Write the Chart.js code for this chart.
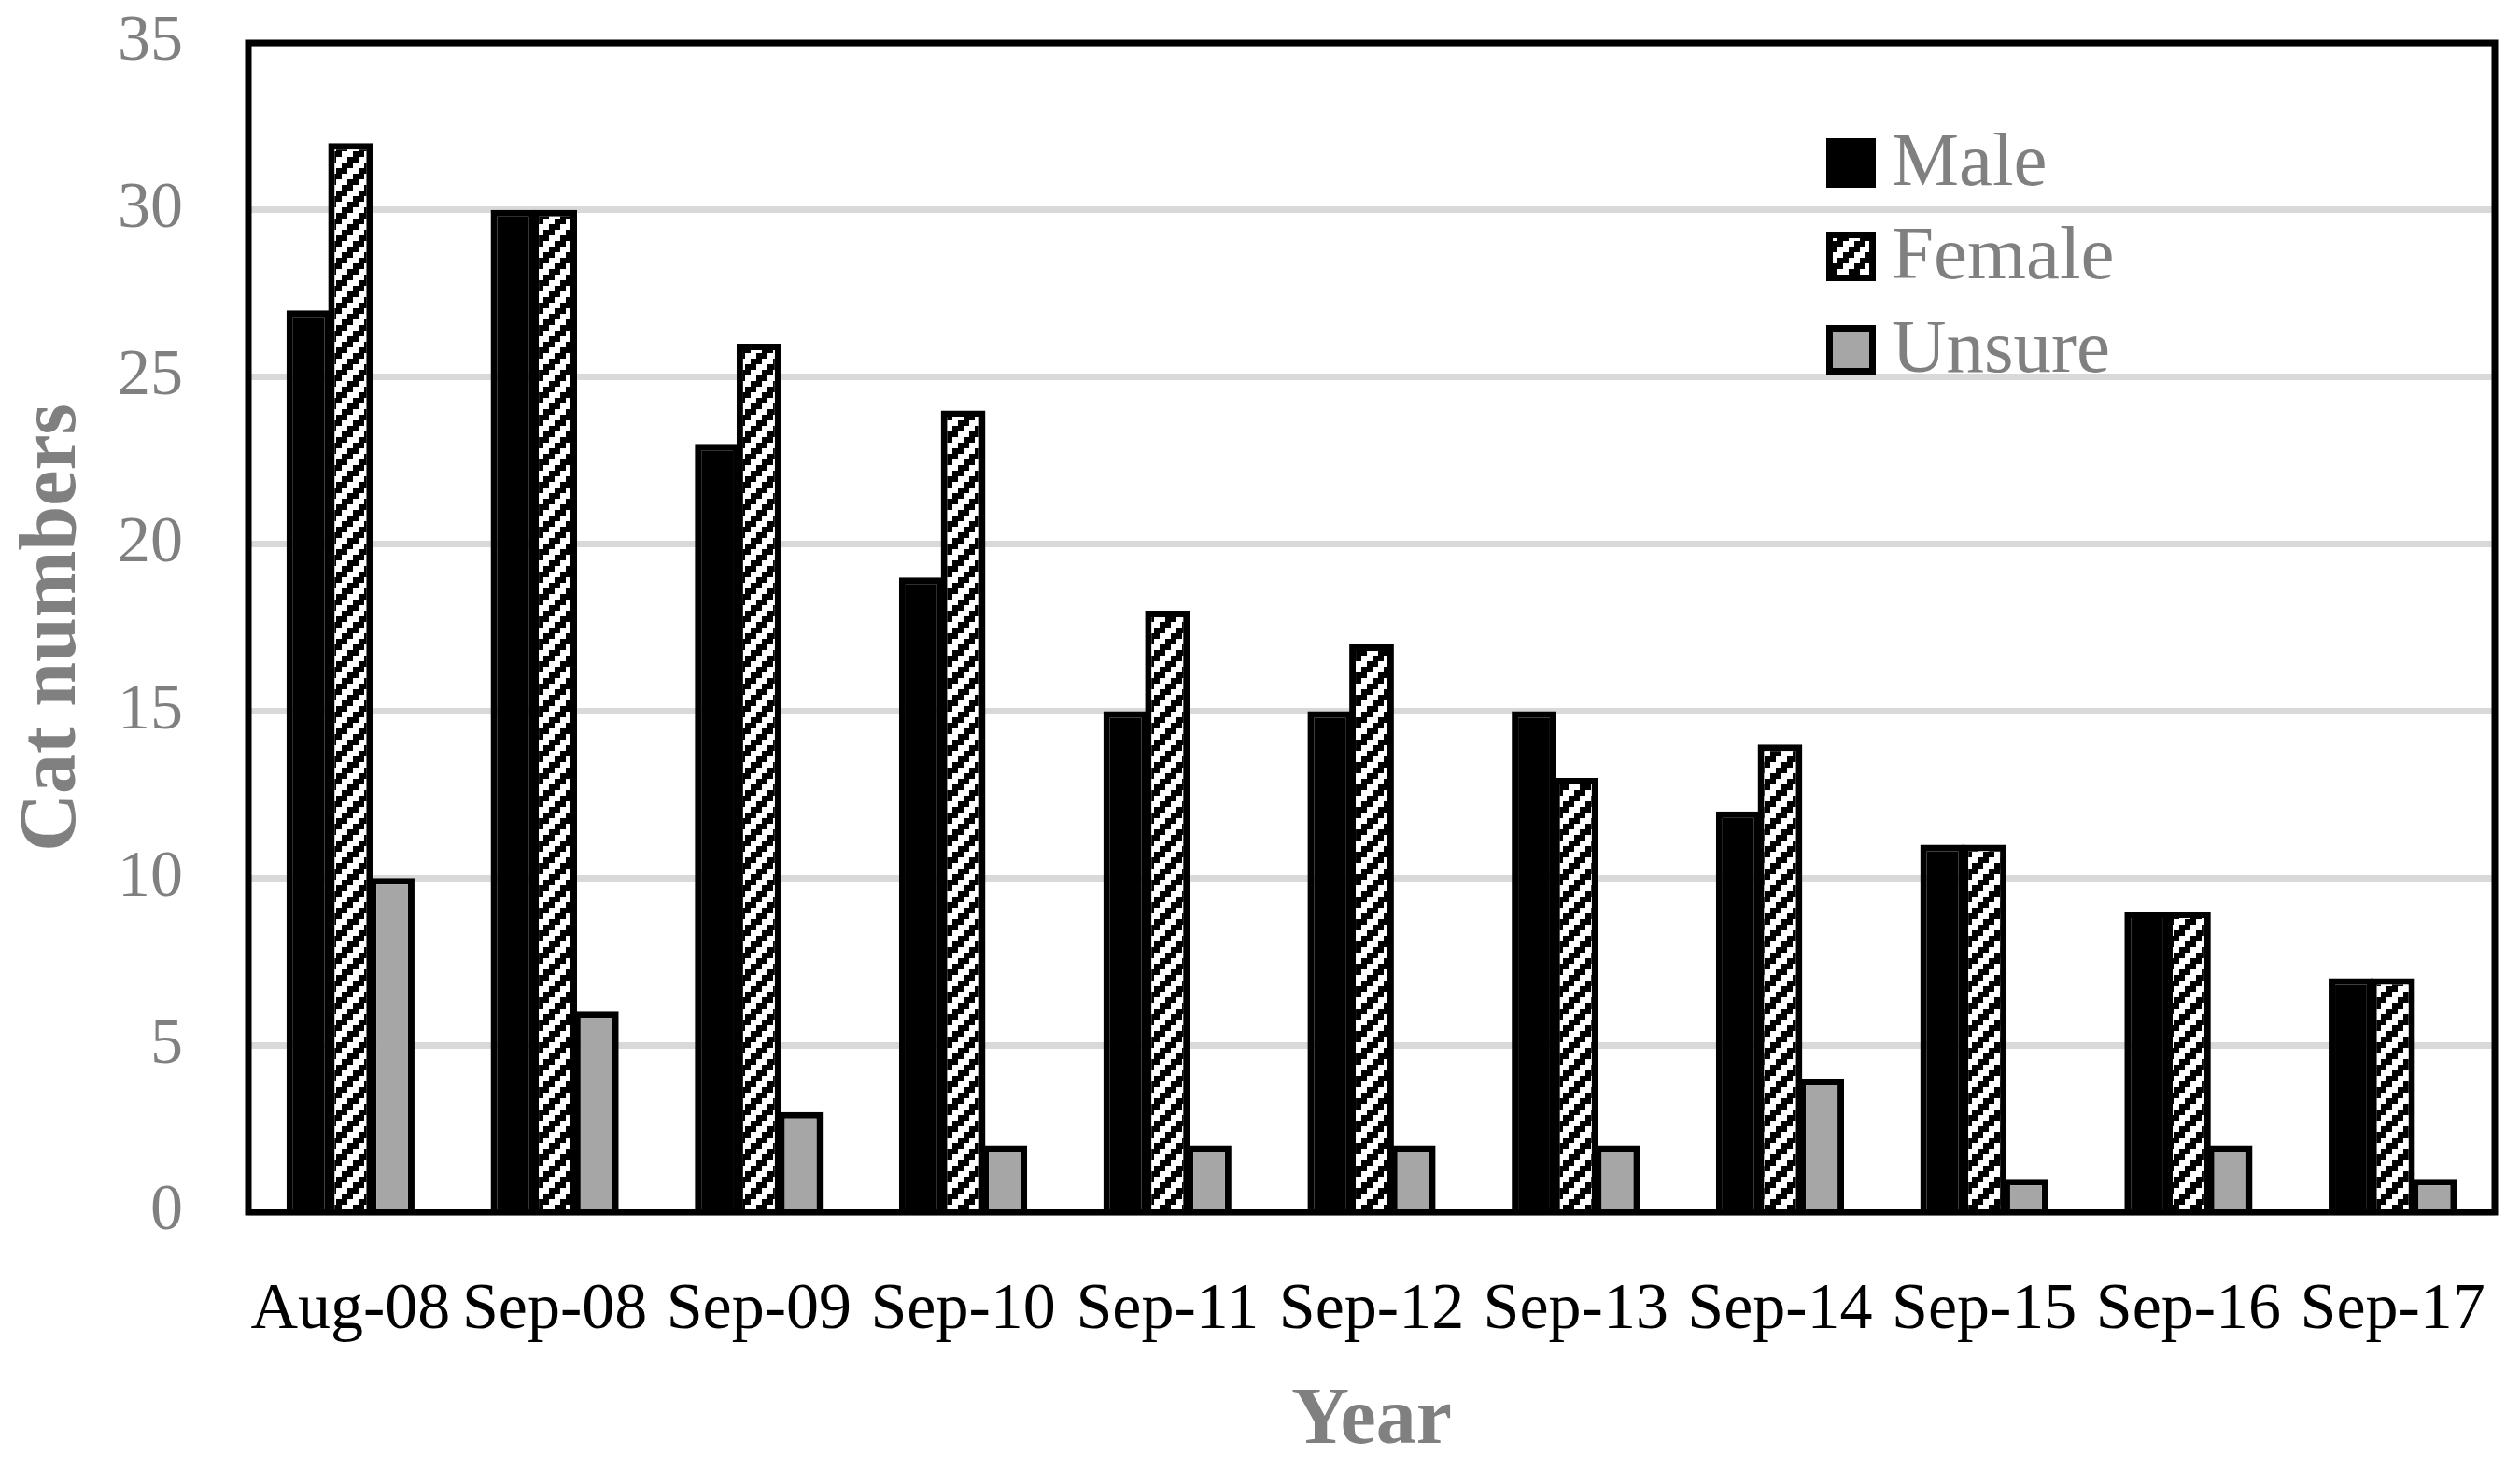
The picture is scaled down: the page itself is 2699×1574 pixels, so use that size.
<!DOCTYPE html>
<html><head><meta charset="utf-8">
<script src="https://cdn.jsdelivr.net/npm/chart.js@4"></script>
<style>html,body{margin:0;padding:0;background:#fff;} #wrap{width:2699px;height:1574px;}</style>
</head><body>
<div id="wrap"><canvas id="c" width="2699" height="1574"></canvas></div>
<script>
const categories = ['Aug-08','Sep-08','Sep-09','Sep-10','Sep-11','Sep-12','Sep-13','Sep-14','Sep-15','Sep-16','Sep-17'];
const maleValues = [27,30,23,19,15,15,15,12,11,9,7];
const femaleValues = [32,30,26,24,18,17,13,14,11,9,7];
const unsureValues = [10,6,3,2,2,2,2,4,1,2,1];
const seriesLabels = ['Male','Female','Unsure'];
const yTicks = [0,5,10,15,20,25,30,35];
const xTitle = 'Year';
const yTitle = 'Cat numbers';

function makePattern() {
  const cell = 6, n = 4;
  const c = document.createElement('canvas');
  c.width = cell * n; c.height = cell * n;
  const g = c.getContext('2d');
  g.fillStyle = '#000'; g.fillRect(0, 0, c.width, c.height);
  g.fillStyle = '#fff';
  for (let r = 0; r < n; r++) for (let col = 0; col < n; col++) {
    const k = (col + r) % n;
    if (k === 0 || k === 1) g.fillRect(col * cell, r * cell, cell, cell);
  }
  return document.getElementById('c').getContext('2d').createPattern(c, 'repeat');
}
const femaleFill = makePattern();

const FONT = "'Liberation Serif', 'Times New Roman', serif";
Chart.defaults.font.family = FONT;

const framePlugin = {
  id: 'frame',
  afterDatasetsDraw(chart) {
    const {ctx, chartArea: a} = chart;
    ctx.save();
    ctx.strokeStyle = '#000';
    ctx.lineWidth = 7;
    ctx.strokeRect(a.left, a.top, a.right - a.left, a.bottom - a.top);
    ctx.restore();
  }
};

const legendPlugin = {
  id: 'insideLegend',
  afterDraw(chart) {
    const {ctx, chartArea: a} = chart;
    const x0 = a.right - 716, y0 = a.top + 102, box = 53, step = 100;
    ctx.save();
    chart.data.datasets.forEach((ds, i) => {
      const y = y0 + i * step;
      ctx.fillStyle = '#000';
      ctx.fillRect(x0, y, box, box);
      const bw = 7;
      if (ds.backgroundColor !== '#000000') {
        ctx.fillStyle = ds.backgroundColor;
        ctx.fillRect(x0 + bw, y + bw, box - 2 * bw, box - 2 * bw);
      }
      ctx.fillStyle = '#808080';
      ctx.font = "81px " + FONT;
      ctx.textBaseline = 'alphabetic';
      ctx.textAlign = 'left';
      ctx.fillText(ds.label, x0 + 70, y + 50);
    });
    ctx.restore();
  }
};

new Chart(document.getElementById('c'), {
  type: 'bar',
  data: {
    labels: categories,
    datasets: [
      {label: seriesLabels[0], data: maleValues, backgroundColor: '#000000', borderColor: '#000', borderWidth: 7},
      {label: seriesLabels[1], data: femaleValues, backgroundColor: femaleFill, borderColor: '#000', borderWidth: 7},
      {label: seriesLabels[2], data: unsureValues, backgroundColor: '#a6a6a6', borderColor: '#000', borderWidth: 7}
    ]
  },
  options: {
    responsive: false,
    animation: false,
    devicePixelRatio: 1,
    layout: {padding: {top: 46, right: 27, left: 0, bottom: 0}},
    datasets: {bar: {categoryPercentage: 0.613, barPercentage: 1.07}},
    plugins: {legend: {display: false}, tooltip: {enabled: false}},
    scales: {
      x: {
        grid: {display: false},
        border: {display: false},
        ticks: {color: '#000', font: {size: 70}, padding: 56, maxRotation: 0, autoSkip: false},
        title: {display: true, text: xTitle, color: '#808080', font: {size: 86, weight: 'bold'}, padding: {top: 1, bottom: 0}},
        afterFit(scale) { scale.height = 276; scale.paddingLeft = 0; scale.paddingRight = 0; }
      },
      y: {
        min: yTicks[0], max: yTicks[yTicks.length - 1],
        grid: {color: '#d9d9d9', lineWidth: 7, drawTicks: false},
        border: {display: false},
        ticks: {stepSize: yTicks[1] - yTicks[0], color: '#808080', font: {size: 70}, padding: 70},
        title: {display: true, text: yTitle, color: '#808080', font: {size: 86, weight: 'bold'}, padding: {top: 6, bottom: 0}},
        afterFit(scale) { scale.width = 266; scale.paddingTop = 0; scale.paddingBottom = 0; }
      }
    }
  },
  plugins: [framePlugin, legendPlugin]
});
</script>
</body></html>
